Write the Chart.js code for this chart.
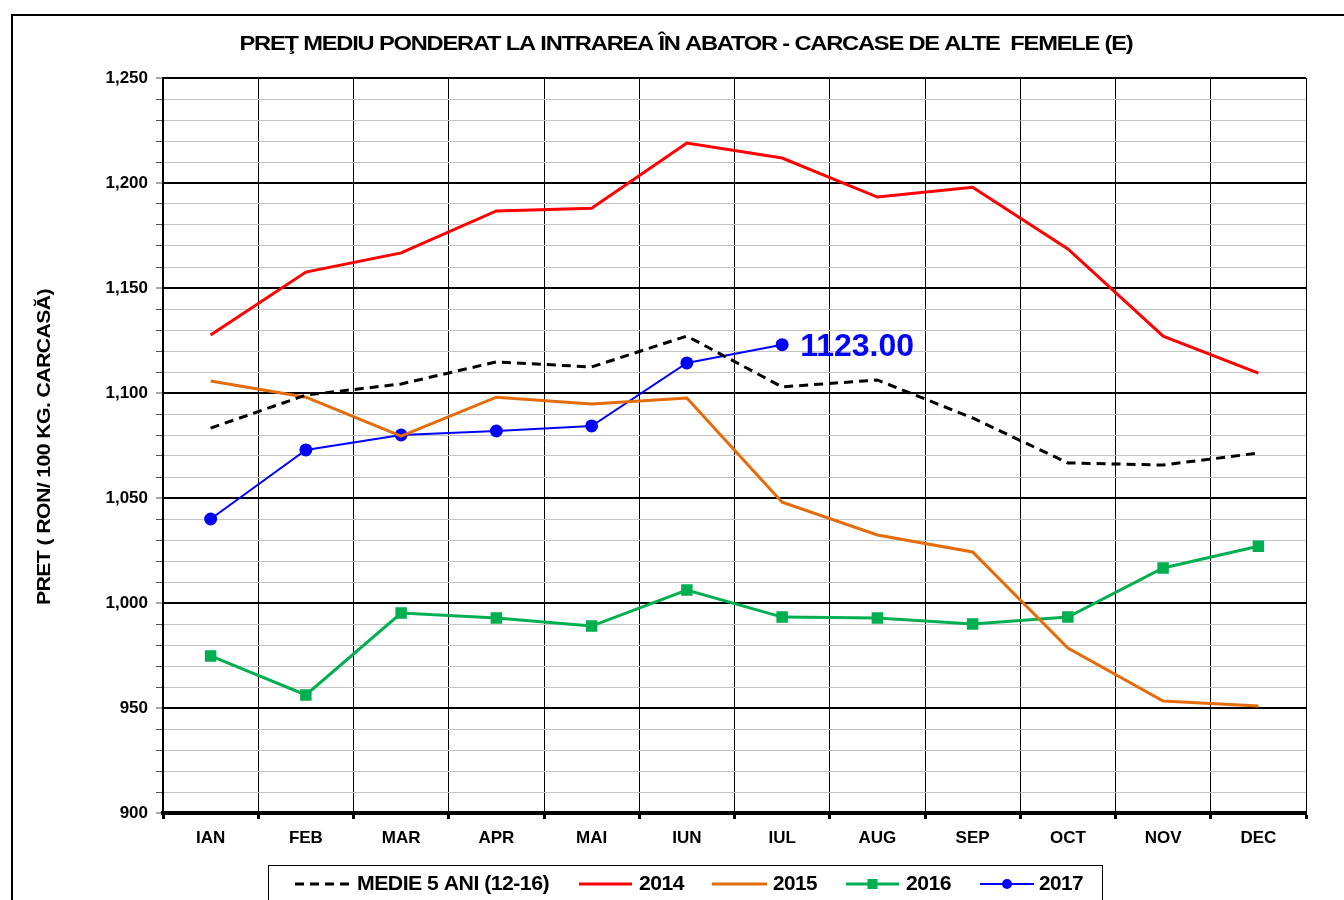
<!DOCTYPE html>
<html><head><meta charset="utf-8">
<script src="https://cdn.jsdelivr.net/npm/chart.js@4/dist/chart.umd.min.js"></script>
<style>html,body{margin:0;padding:0;background:#fff}#wrap{width:1344px;height:900px;position:relative}</style>
</head><body><div id="wrap"><canvas id="c" width="1344" height="900"></canvas></div>
<script>
const months = ['IAN','FEB','MAR','APR','MAI','IUN','IUL','AUG','SEP','OCT','NOV','DEC'];
const medie5 = [1083.3,1099,1104.3,1114.8,1112.4,1127.1,1102.9,1106.2,1088.1,1066.7,1065.7,1071.4];
const s2014 = [1127.6,1157.6,1166.7,1186.7,1188,1219,1211.9,1193.3,1198,1168.6,1127.1,1109.5];
const s2015 = [1105.7,1098,1079.5,1098,1094.8,1097.6,1048,1032.4,1024.3,978.6,953.3,951];
const s2016 = [974.8,956.2,995.2,992.9,989,1006.2,993.3,992.9,990,993.3,1016.7,1027];
const s2017 = [1040,1072.9,1080,1081.9,1084.3,1114.3,1123];
const seriesNames = ['MEDIE 5 ANI (12-16)','2014','2015','2016','2017'];
const lastLabel = '1123.00';
const titleText = 'PREŢ MEDIU PONDERAT LA INTRAREA ÎN ABATOR - CARCASE DE ALTE  FEMELE (E)';
const yTitle = 'PRET ( RON/ 100 KG. CARCASĂ)';

const FONT = '"Liberation Sans", Arial, sans-serif';

function fitText(ctx, text, x, y, width, font, align, spacing){
  ctx.save();
  ctx.font = font;
  if (spacing) ctx.letterSpacing = spacing;
  const w = ctx.measureText(text).width;
  const sx = width / w;
  ctx.translate(x, y);
  ctx.scale(sx, 1);
  ctx.textBaseline = 'middle';
  ctx.textAlign = align || 'center';
  ctx.fillText(text, 0, 0);
  ctx.restore();
}

const decor = {
  id: 'decor',
  afterDraw(chart){
    const ctx = chart.ctx;
    ctx.save();
    ctx.strokeStyle = '#000'; ctx.lineWidth = 2;
    ctx.strokeRect(12, 15, 1400, 1000);
    ctx.fillStyle = '#000';
    fitText(ctx, titleText, 686, 44, 893, 'bold 20px ' + FONT, 'center', '-1px');
    ctx.save();
    ctx.translate(45, 447);
    ctx.rotate(-Math.PI/2);
    fitText(ctx, yTitle, 0, 0, 316, 'bold 18px ' + FONT, 'center', '-0.5px');
    ctx.restore();
    const meta = chart.getDatasetMeta(4);
    const pt = meta.data[meta.data.length - 1];
    ctx.fillStyle = '#0000FF';
    ctx.font = 'bold 32px ' + FONT;
    ctx.textBaseline = 'middle'; ctx.textAlign = 'left';
    ctx.fillText(lastLabel, pt.x + 18, pt.y + 2);
    ctx.strokeStyle = '#000'; ctx.lineWidth = 1;
    ctx.strokeRect(268.5, 865.5, 834, 60);
    const items = [
      {x0:295,x1:350,tx:357,tw:192},
      {x0:579,x1:632,tx:639,tw:45},
      {x0:712,x1:767,tx:773,tw:44},
      {x0:846,x1:899,tx:906,tw:45},
      {x0:980,x1:1034,tx:1039,tw:44}
    ];
    const ly = 884;
    items.forEach((it,i)=>{
      const ds = chart.data.datasets[i];
      ctx.save();
      ctx.strokeStyle = ds.borderColor;
      ctx.lineWidth = ds.borderWidth;
      ctx.setLineDash(ds.borderDash || []);
      ctx.beginPath(); ctx.moveTo(it.x0, ly); ctx.lineTo(it.x1, ly); ctx.stroke();
      ctx.setLineDash([]);
      const mx = (it.x0+it.x1)/2;
      ctx.fillStyle = ds.pointBackgroundColor || ds.borderColor;
      if (ds.pointStyle === 'rect' && ds.pointRadius > 0){
        ctx.fillRect(mx-5, ly-5, 10, 10);
      } else if (ds.pointStyle === 'circle' && ds.pointRadius > 0){
        ctx.beginPath(); ctx.arc(mx, ly, 5, 0, Math.PI*2); ctx.fill();
      }
      ctx.fillStyle = '#000';
      fitText(ctx, seriesNames[i], it.tx, ly, it.tw, 'bold 20px ' + FONT, 'left', '-0.5px');
      ctx.restore();
    });
    ctx.restore();
  }
};

new Chart(document.getElementById('c'), {
  type: 'line',
  data: {
    labels: months,
    datasets: [
      {label: seriesNames[0], data: medie5, borderColor:'#000', borderWidth:3, borderDash:[9,6], pointRadius:0, pointStyle:'circle', tension:0},
      {label: seriesNames[1], data: s2014, borderColor:'#FF0000', borderWidth:3, pointRadius:0, pointStyle:'circle', tension:0},
      {label: seriesNames[2], data: s2015, borderColor:'#E46C0A', borderWidth:3, pointRadius:0, pointStyle:'circle', tension:0},
      {label: seriesNames[3], data: s2016, borderColor:'#00B050', backgroundColor:'#00B050', pointBackgroundColor:'#00B050', borderWidth:3, pointRadius:6, pointStyle:'rect', tension:0},
      {label: seriesNames[4], data: s2017, borderColor:'#0000FF', backgroundColor:'#0000FF', pointBackgroundColor:'#0000FF', borderWidth:2, pointRadius:5.5, pointStyle:'circle', tension:0}
    ]
  },
  options: {
    responsive: false,
    animation: false,
    layout: {padding: {top:78, right:38, left:0, bottom:0}},
    plugins: {legend:{display:false}, title:{display:false}, tooltip:{enabled:false}},
    scales: {
      x: {
        offset: true,
        afterFit(s){ s.height = 87; },
        grid: {offset:true, color:'#000', lineWidth:1, tickLength:6, drawTicks:true, tickColor:'#000', tickWidth:3},
        border: {color:'#000', width:4},
        ticks: {color:'#000', font:{family:FONT, size:17, weight:'bold'}, padding:9, autoSkip:false, maxRotation:0}
      },
      y: {
        min: 900, max: 1250,
        afterFit(s){ s.width = 163; },
        grid: {
          color: c => (c.tick && c.tick.value % 50 === 0) ? '#000' : '#c4c4c4',
          lineWidth: c => (c.tick && c.tick.value % 50 === 0) ? 2 : 1,
          tickColor: '#555', tickLength: 7, tickWidth: 1
        },
        border: {color:'#000', width:2},
        ticks: {
          stepSize: 10, autoSkip:false, padding:8, color:'#000',
          font:{family:FONT, size:17, weight:'bold'},
          callback: v => v % 50 === 0 ? v.toLocaleString('en-US') : ''
        }
      }
    }
  },
  plugins: [decor]
});
</script></body></html>
